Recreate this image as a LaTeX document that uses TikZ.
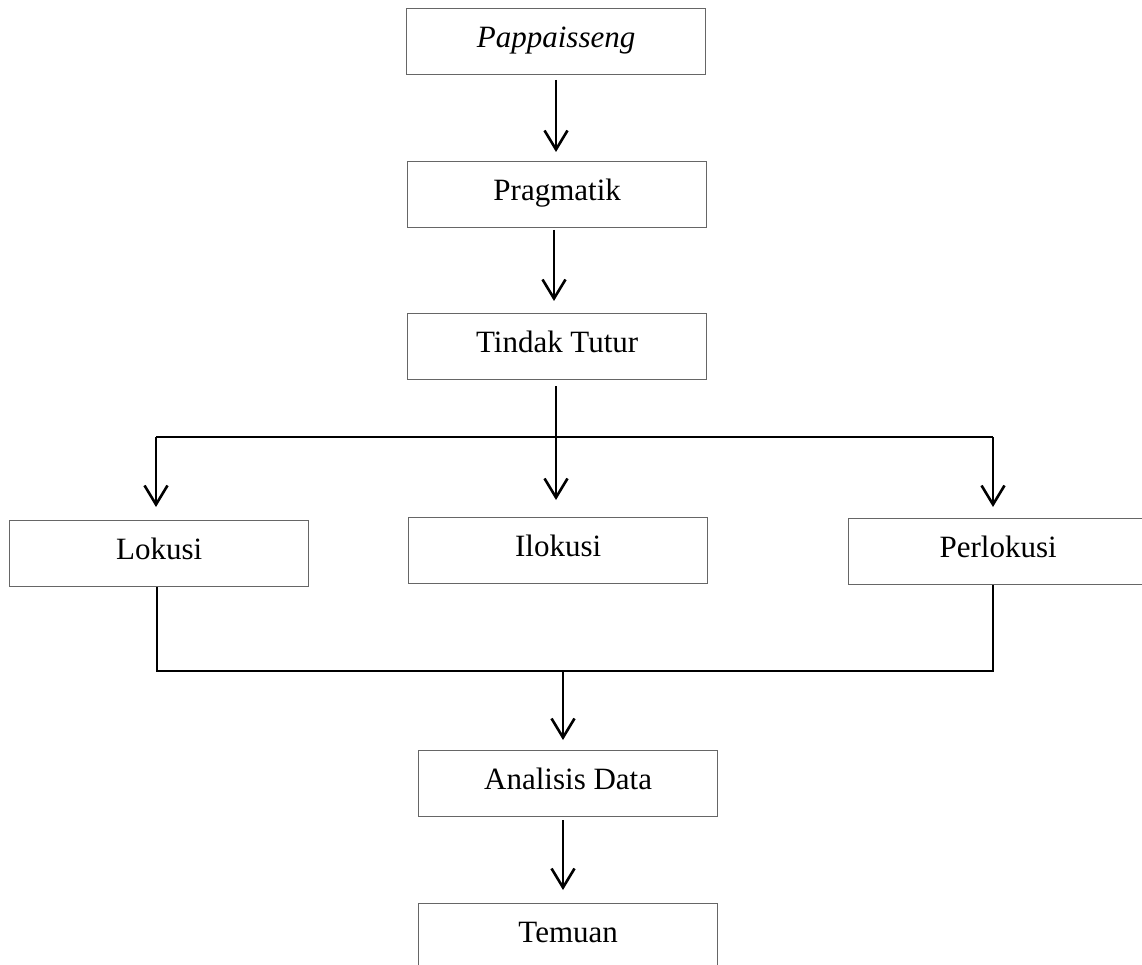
\documentclass[tikz,border=0pt]{standalone}
\usepackage{fontspec}
\setmainfont{Liberation Serif}
\usetikzlibrary{arrows.meta,calc}
\begin{document}
\begin{tikzpicture}[x=1pt,y=-1pt,
  box/.style={draw=black!60,line width=1.3pt,rectangle,inner sep=0pt,
    minimum width=299pt,minimum height=66pt,text height=20pt,text depth=8pt,
    font=\fontsize{31}{36}\selectfont,anchor=north west},
  ln/.style={draw=black,line width=2.6pt},
  arr/.style={ln,-{Straight Barb[length=19pt,width=23pt,line width=2.6pt]}}]
\useasboundingbox (0,0) rectangle (1142,965);
\clip (0,0) rectangle (1142,965);
\node[box] (pap) at (406,8) {\textit{Pappaisseng}};
\node[box] (prag) at (407,161) {Pragmatik};
\node[box] (tt) at (407,313) {Tindak Tutur};
\node[box] (lok) at (9,520) {Lokusi};
\node[box] (ilo) at (408,517) {Ilokusi};
\node[box] (per) at (848,518) {Perlokusi};
\node[box] (ana) at (418,750) {Analisis Data};
\node[box] (tem) at (418,903) {Temuan};
\coordinate (c1a) at (556,80);
\coordinate (c2a) at (554,230);
\coordinate (c3a) at (556,386);
\coordinate (split) at (556,437);
\coordinate (lsplit) at (156,437);
\coordinate (rsplit) at (993,437);
\coordinate (lj) at (157,671);
\coordinate (rj) at (993,671);
\coordinate (join) at (563,671);
\coordinate (c5a) at (563,820);
\draw[arr] (c1a) -- ($(c1a |- prag.north)+(0,-9)$);
\draw[arr] (c2a) -- ($(c2a |- tt.north)+(0,-12)$);
\draw[arr] (c3a) -- ($(c3a |- ilo.north)+(0,-17)$);
\draw[ln] (lsplit) -- (rsplit);
\draw[arr] (lsplit) -- ($(lsplit |- lok.north)+(0,-13)$);
\draw[arr] (rsplit) -- ($(rsplit |- per.north)+(0,-11)$);
\draw[ln,line join=miter] (lj |- lok.south) -- (lj) -- (rj) -- (rj |- per.south);
\draw[arr] (join) -- ($(join |- ana.north)+(0,-10)$);
\draw[arr] (c5a) -- ($(c5a |- tem.north)+(0,-13)$);
\end{tikzpicture}
\end{document}
